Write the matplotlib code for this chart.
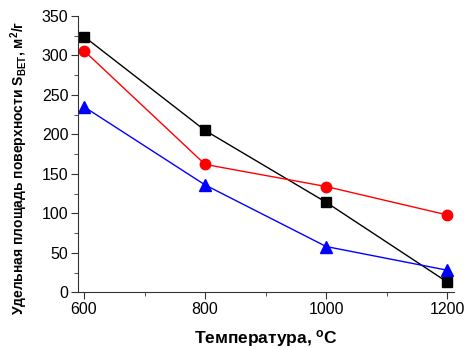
import matplotlib.pyplot as plt
from matplotlib.ticker import MultipleLocator

plt.rcParams['font.family'] = ['Liberation Sans', 'DejaVu Sans']

# data
temps = [600, 800, 1000, 1200]
s_black = [324, 205, 114, 13]
s_red = [306, 162, 134, 98]
s_blue = [235, 136, 58, 28]

fig = plt.figure(figsize=(4.67, 3.48), dpi=100)
ax = fig.add_axes([0.167, 0.160, 0.805, 0.794])

ax.plot(temps, s_black, color='black', marker='s', markersize=7, linewidth=1)
ax.plot(temps, s_red, color='red', marker='o', markersize=7.5, linewidth=1)
ax.plot(temps, s_blue, color='blue', marker='^', markersize=8, linewidth=1)

ax.set_xlim(590, 1211)
ax.set_ylim(0, 350)
ax.xaxis.set_major_locator(MultipleLocator(200))
ax.xaxis.set_minor_locator(MultipleLocator(100))
ax.yaxis.set_major_locator(MultipleLocator(50))
ax.yaxis.set_minor_locator(MultipleLocator(25))
ax.spines['top'].set_visible(False)
ax.spines['right'].set_visible(False)
for sp in ax.spines.values():
    sp.set_color('#333333')
ax.tick_params(which='major', length=5, labelsize=11.5, colors='#333333', labelcolor='black', pad=2)
ax.tick_params(which='minor', length=3, colors='#333333')

ax.set_xlabel('Температура, $\\mathregular{^{o}}$C', fontsize=12.5, fontweight='bold', labelpad=8)
ax.set_ylabel('Удельная площадь поверхности S$\\mathregular{_{BET}}$, м$\\mathregular{^{2}}$/г',
              fontsize=10, fontweight='bold')
ax.yaxis.set_label_coords(-0.128, 0.45)

fig.savefig('out.png', dpi=100)
